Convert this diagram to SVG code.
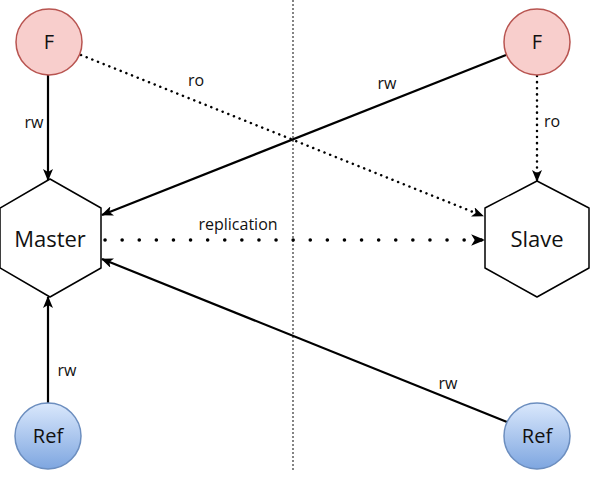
<svg xmlns="http://www.w3.org/2000/svg" width="595" height="477" viewBox="0 0 595 477">
<defs>
<linearGradient id="refg" x1="0" y1="0" x2="0" y2="1">
<stop offset="0" stop-color="#dae8fc"/>
<stop offset="1" stop-color="#7ea6e0"/>
</linearGradient>
<marker id="arr" viewBox="0 0 12 10" refX="11" refY="5" markerWidth="12" markerHeight="10" markerUnits="userSpaceOnUse" orient="auto">
<path d="M0,0 L12,5 L0,10 L3,5 Z" fill="#000"/>
</marker>
<marker id="arr2" viewBox="0 0 12 10" refX="11" refY="5" markerWidth="14" markerHeight="12" markerUnits="userSpaceOnUse" orient="auto">
<path d="M0,0 L12,5 L0,10 L3,5 Z" fill="#000"/>
</marker>
</defs>
<style>
text{font-family:"Open Sans","Noto Sans","DejaVu Sans",sans-serif;fill:#111}
.lbl{font-size:16px}
.f circle{fill:#f8cecc;stroke:#b85450;stroke-width:1.5}
.r circle{fill:url(#refg);stroke:#6c8ebf;stroke-width:1.5}
.hex{fill:#fff;stroke:#000;stroke-width:1.5;stroke-linejoin:round}
.solid{stroke:#000;stroke-width:2.2;fill:none;marker-end:url(#arr)}
.dot{stroke:#000;stroke-width:2.5;fill:none;stroke-dasharray:0.1 6;stroke-linecap:round;marker-end:url(#arr)}
.dotbig{stroke:#000;stroke-width:3.5;fill:none;stroke-dasharray:0.1 17;stroke-linecap:round;marker-end:url(#arr2)}
</style>
<line x1="293" y1="0" x2="293" y2="472" stroke="#333" stroke-width="1.2" stroke-dasharray="2 2"/>
<g id="connectors">
<line class="solid" x1="48" y1="75" x2="48" y2="180"/>
<line class="solid" x1="48" y1="403" x2="48" y2="297"/>
<line class="solid" x1="506" y1="55" x2="102" y2="215"/>
<line class="solid" x1="507" y1="422" x2="102" y2="259"/>
<line class="dot" x1="81" y1="55" x2="483" y2="216"/>
<line class="dot" x1="537" y1="76" x2="537" y2="181"/>
<line class="dotbig" x1="105" y1="240" x2="484" y2="240"/>
<text class="lbl" x="34" y="128" text-anchor="middle">rw</text>
<text class="lbl" x="67" y="376" text-anchor="middle">rw</text>
<text class="lbl" x="387" y="89" text-anchor="middle">rw</text>
<text class="lbl" x="448" y="389" text-anchor="middle">rw</text>
<text class="lbl" x="196" y="86" text-anchor="middle">ro</text>
<text class="lbl" x="552" y="127" text-anchor="middle">ro</text>
<text class="lbl" x="238" y="230" text-anchor="middle">replication</text>
</g>
<g id="F1" class="f"><circle cx="49" cy="42" r="33"/><text x="49" y="49" font-size="20" text-anchor="middle">F</text></g>
<g id="F2" class="f"><circle cx="537" cy="42" r="33"/><text x="537" y="49" font-size="20" text-anchor="middle">F</text></g>
<g id="Master"><path class="hex" d="M50,179 L101,208 L101,268 L50,297 L0,268 L0,208 Z"/><text x="50" y="247" font-size="22" text-anchor="middle">Master</text></g>
<g id="Slave"><path class="hex" d="M537,181 L589,208 L589,268 L537,297 L485,268 L485,208 Z"/><text x="537" y="247" font-size="22" text-anchor="middle">Slave</text></g>
<g id="Ref1" class="r"><circle cx="48" cy="436" r="33"/><text x="48" y="443" font-size="20" text-anchor="middle">Ref</text></g>
<g id="Ref2" class="r"><circle cx="537" cy="436" r="33"/><text x="537" y="443" font-size="20" text-anchor="middle">Ref</text></g>
</svg>
